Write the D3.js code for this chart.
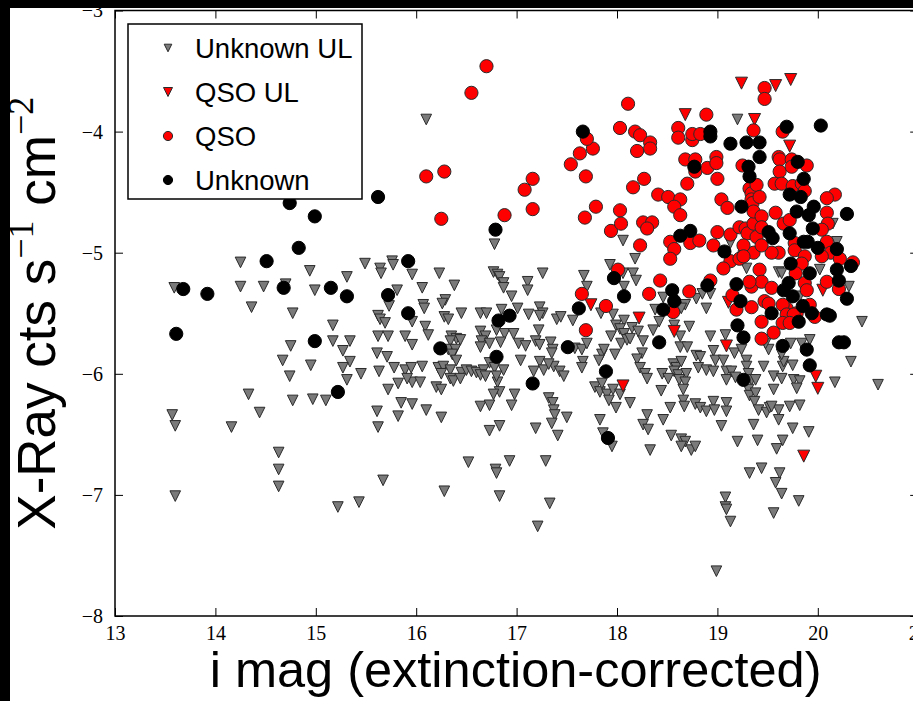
<!DOCTYPE html>
<html>
<head>
<meta charset="utf-8">
<script src="https://cdn.jsdelivr.net/npm/d3@7"></script>
<style>
  html, body { margin: 0; padding: 0; background: #000; }
  svg { display: block; }
</style>
</head>
<body>
<svg id="chart" width="913" height="701"></svg>
<script>
// X-ray count rate (log) against extinction-corrected i magnitude.
// Each entry is [i mag, log10 X-ray cts s^-1 cm^-2].

// Sources of unknown type, X-ray upper limits only
const unknownUL = [
  [14.25,-5.08],[14.94,-5.15],[15.49,-5.09],[15.64,-5.13],[15.65,-5.17],[15.76,-5.07],[15.77,-5.10],[15.96,-5.18],
  [15.31,-5.20],[13.59,-5.29],[14.25,-5.28],[14.48,-5.28],[14.70,-5.26],[14.99,-5.31],[15.81,-5.31],[14.36,-5.45],
  [14.77,-5.50],[15.73,-5.44],[15.62,-5.52],[15.64,-5.55],[15.69,-5.58],[15.96,-5.57],[15.17,-5.60],[14.75,-5.77],
  [15.17,-5.73],[15.34,-5.73],[15.27,-5.81],[15.62,-5.69],[15.72,-5.69],[15.89,-5.69],[15.96,-5.76],[15.61,-5.83],
  [15.71,-5.86],[14.67,-5.89],[14.95,-5.93],[15.34,-5.90],[15.27,-5.95],[15.45,-6.00],[15.63,-5.98],[15.78,-5.95],
  [15.89,-5.97],[15.95,-5.95],[14.74,-6.02],[15.31,-6.05],[15.96,-6.07],[15.82,-6.08],[15.72,-6.13],[14.33,-6.17],
  [14.77,-6.22],[14.97,-6.21],[15.10,-6.22],[15.85,-6.24],[15.96,-6.25],[13.57,-6.34],[13.60,-6.43],[14.44,-6.32],
  [14.16,-6.44],[15.61,-6.31],[15.62,-6.44],[15.82,-6.35],[14.63,-6.65],[14.63,-6.79],[14.63,-6.93],[13.60,-7.01],
  [15.67,-6.88],[15.22,-7.10],[15.43,-7.06],
  [16.78,-4.93],[17.93,-5.10],[16.23,-5.17],[16.77,-5.16],[16.81,-5.18],[16.83,-5.20],[17.26,-5.17],[17.67,-5.19],
  [18.06,-5.17],[16.06,-5.29],[16.38,-5.27],[16.87,-5.25],[16.87,-5.29],[17.11,-5.24],[17.11,-5.31],[16.95,-5.36],
  [17.70,-5.28],[18.07,-5.28],[16.29,-5.39],[16.26,-5.42],[16.07,-5.43],[16.08,-5.46],[16.45,-5.50],[16.28,-5.53],
  [16.32,-5.55],[16.64,-5.50],[16.70,-5.50],[16.85,-5.47],[17.01,-5.46],[17.12,-5.51],[17.23,-5.45],[17.26,-5.50],
  [17.23,-5.52],[17.40,-5.55],[17.44,-5.53],[17.56,-5.56],[17.84,-5.50],[17.96,-5.51],[18.07,-5.56],[16.09,-5.61],
  [16.12,-5.68],[16.64,-5.65],[16.69,-5.69],[16.80,-5.64],[16.88,-5.67],[16.97,-5.67],[17.22,-5.64],[16.35,-5.69],
  [16.40,-5.71],[16.44,-5.72],[16.34,-5.73],[17.99,-5.60],[18.03,-5.63],[18.07,-5.67],[17.94,-5.69],[16.32,-5.80],
  [16.39,-5.80],[16.36,-5.84],[16.65,-5.73],[16.73,-5.75],[16.64,-5.78],[16.84,-5.74],[17.02,-5.75],[17.09,-5.77],
  [17.19,-5.73],[17.23,-5.76],[17.34,-5.74],[17.36,-5.80],[17.35,-5.83],[17.58,-5.79],[17.65,-5.80],[17.70,-5.75],
  [17.85,-5.84],[17.98,-5.84],[17.87,-5.80],[18.04,-5.75],[18.10,-5.72],[16.40,-5.89],[16.73,-5.91],[17.04,-5.89],
  [17.23,-5.90],[17.66,-5.90],[17.65,-5.95],[17.82,-5.89],[16.06,-5.94],[16.22,-5.95],[16.27,-5.94],[16.34,-5.97],
  [16.25,-6.00],[16.45,-5.99],[16.50,-5.97],[16.55,-5.98],[16.60,-5.99],[16.67,-5.97],[16.78,-5.95],[16.87,-5.97],
  [17.17,-5.98],[17.27,-5.97],[17.37,-5.94],[17.32,-5.92],[17.43,-5.98],[17.47,-6.02],[15.91,-6.04],[16.04,-6.07],
  [16.20,-6.11],[16.25,-6.13],[16.34,-6.04],[16.37,-6.06],[16.44,-6.04],[16.64,-6.01],[16.69,-6.02],[16.81,-6.07],
  [16.83,-6.15],[16.80,-6.02],[17.78,-6.11],[17.83,-6.15],[17.90,-6.17],[17.96,-6.13],[18.03,-6.17],[17.85,-6.08],
  [16.10,-6.30],[16.25,-6.36],[16.64,-6.27],[16.73,-6.26],[16.77,-6.17],[16.95,-6.26],[16.98,-6.17],[17.32,-6.20],
  [17.36,-6.24],[17.37,-6.30],[17.38,-6.34],[17.35,-6.41],[17.50,-6.36],[17.83,-6.38],[17.92,-6.22],[17.99,-6.28],
  [16.73,-6.47],[16.83,-6.43],[17.19,-6.45],[17.41,-6.51],[17.86,-6.49],[17.95,-6.60],[16.52,-6.73],[16.93,-6.72],
  [17.29,-6.72],[16.79,-6.79],[16.80,-6.82],[16.28,-6.97],[16.83,-7.01],[17.33,-7.07],[17.21,-7.26],
  [19.20,-3.90],[18.06,-4.90],[18.18,-5.05],[18.16,-5.17],[18.19,-5.23],[18.46,-5.37],[18.38,-5.47],[18.68,-5.43],
  [18.64,-5.46],[18.79,-5.38],[18.89,-5.46],[18.85,-5.34],[18.93,-5.34],[19.13,-4.92],[19.29,-5.13],
  [20.15,-4.76],[20.19,-4.91],[19.61,-5.16],[19.64,-5.17],[20.02,-5.14],[20.31,-5.28],[19.82,-5.36],
  [18.15,-5.62],[18.13,-5.71],[18.21,-5.65],[18.26,-5.73],[18.36,-5.64],[18.42,-5.57],[18.57,-5.60],[18.72,-5.61],
  [18.63,-5.69],[18.93,-5.69],[18.63,-5.78],[18.70,-5.78],[18.25,-5.83],[18.20,-5.88],[18.79,-5.85],[18.96,-5.81],
  [18.98,-5.89],[19.08,-5.68],[19.17,-5.83],[19.24,-5.80],[19.29,-5.89],[19.06,-5.89],[18.56,-5.92],[18.59,-5.95],
  [18.57,-5.98],[18.64,-5.90],[18.23,-5.95],[18.28,-6.00],[18.30,-6.04],[18.45,-6.00],[18.51,-6.04],[18.61,-6.01],
  [18.69,-6.00],[18.62,-6.05],[18.68,-6.07],[18.81,-5.95],[18.89,-5.97],[18.96,-5.98],[18.83,-5.86],[19.09,-5.98],
  [19.09,-6.05],[19.14,-5.98],[19.18,-6.03],[19.29,-5.94],[19.31,-6.00],[19.34,-6.05],[19.38,-6.05],[19.46,-5.94],
  [19.56,-6.02],[19.64,-6.04],[19.65,-5.94],[19.66,-5.90],[19.64,-5.84],[19.51,-5.80],[19.75,-5.93],[19.76,-6.05],
  [19.82,-6.06],[19.79,-6.12],[19.73,-5.75],[19.84,-5.75],[19.92,-5.72],[19.48,-5.75],[19.56,-6.13],[19.31,-6.13],
  [19.32,-6.18],[19.38,-6.16],[18.66,-6.13],[18.66,-6.22],[18.67,-6.27],[18.44,-6.14],[18.13,-6.24],[18.53,-6.28],
  [18.78,-6.25],[18.83,-6.28],[18.89,-6.31],[18.96,-6.23],[18.97,-6.30],[19.09,-6.24],[19.09,-6.31],[19.37,-6.23],
  [19.41,-6.30],[19.49,-6.32],[19.52,-6.28],[19.61,-6.30],[19.61,-6.38],[19.54,-6.27],[19.72,-6.27],[19.82,-6.26],
  [18.30,-6.34],[18.26,-6.42],[18.31,-6.46],[18.46,-6.38],[19.04,-6.43],[19.36,-6.42],[19.75,-6.45],[19.91,-6.48],
  [18.54,-6.51],[18.64,-6.54],[18.68,-6.56],[18.64,-6.60],[18.74,-6.63],[18.78,-6.60],[18.33,-6.63],[19.20,-6.56],
  [19.40,-6.55],[19.59,-6.62],[19.65,-6.55],[20.44,-5.57],[20.33,-5.90],[20.17,-6.07],[20.60,-6.09],[19.32,-6.82],
  [19.44,-6.78],[19.62,-6.82],[19.58,-6.90],[19.64,-6.99],[19.81,-7.05],[19.08,-7.02],[19.08,-7.10],[19.09,-7.12],
  [19.13,-7.22],[19.56,-7.15],[18.99,-7.63],[16.10,-3.90]
];

// Spectroscopic QSOs, X-ray upper limits only
const qsoUL = [
  [19.24,-3.60],[19.58,-3.62],[19.73,-3.57],[18.68,-3.86],[19.37,-3.90],[19.72,-4.12],[19.11,-5.41],[18.22,-5.54],
  [18.57,-5.65],[19.09,-5.77],[18.06,-6.10],[19.98,-6.02],[20.00,-6.12],[19.86,-6.68],[17.74,-5.43],[20.05,-5.31]
];

// Spectroscopic QSOs, X-ray detections
const qso = [
  [16.70,-3.46],[16.55,-3.68],[16.10,-4.37],[16.28,-4.33],[17.16,-4.39],[17.08,-4.48],[17.54,-4.27],[17.63,-4.18],
  [17.76,-4.14],[17.70,-4.06],[17.69,-4.37],[18.03,-3.97],[16.25,-4.72],[16.88,-4.69],[17.16,-4.64],[17.68,-4.71],
  [17.79,-4.62],[18.03,-4.65],[17.94,-4.82],[18.04,-4.76],[18.01,-5.14],[17.65,-5.34],[17.89,-5.44],[17.69,-5.64],
  [18.11,-3.77],[18.18,-4.00],[18.23,-4.03],[18.33,-4.09],[18.33,-4.14],[18.20,-4.16],[18.61,-3.97],[18.61,-4.05],
  [18.75,-4.07],[18.75,-4.02],[18.83,-4.02],[18.89,-3.86],[18.68,-4.23],[18.78,-4.23],[18.78,-4.33],[18.90,-4.30],
  [18.99,-4.21],[18.99,-4.26],[19.00,-4.39],[18.70,-4.43],[18.16,-4.46],[18.27,-4.39],[18.41,-4.52],[18.51,-4.54],
  [18.63,-4.56],[18.57,-4.62],[18.63,-4.69],[18.26,-4.75],[18.35,-4.75],[18.30,-4.80],[18.23,-4.94],[18.53,-4.91],
  [18.57,-4.97],[18.53,-5.05],[18.73,-4.92],[18.82,-4.90],[18.96,-4.94],[19.04,-4.56],[19.10,-4.63],[19.25,-4.28],
  [19.32,-4.47],[19.34,-4.51],[19.34,-4.56],[19.35,-4.59],[19.00,-4.83],[19.13,-4.85],[19.22,-4.79],[19.28,-4.80],
  [19.30,-4.84],[19.36,-4.76],[19.39,-4.87],[19.27,-5.00],[19.13,-5.07],[19.22,-5.05],[19.06,-5.13],[19.34,-5.28],
  [18.43,-5.23],[18.32,-5.34],[18.72,-5.32],[18.93,-5.23],[19.15,-5.35],[19.19,-5.47],[19.34,-5.45],[19.36,-5.00],
  [19.36,-4.66],[19.36,-3.99],[19.47,-3.64],[19.47,-3.73],[19.65,-4.00],[19.61,-4.21],[19.62,-4.23],[19.74,-4.23],
  [19.89,-4.28],[19.62,-4.33],[19.39,-4.44],[20.17,-4.52],[20.09,-4.55],[19.74,-4.29],[19.57,-4.43],[19.64,-4.43],
  [19.75,-4.45],[19.84,-4.43],[19.87,-4.49],[19.42,-4.54],[20.09,-4.67],[20.10,-4.76],[19.58,-4.67],[19.44,-4.70],
  [19.44,-4.79],[19.66,-4.76],[19.72,-4.73],[20.04,-4.81],[19.77,-4.92],[19.77,-4.98],[19.61,-5.00],[19.54,-5.00],
  [19.44,-4.94],[20.09,-4.91],[20.13,-5.00],[20.22,-5.05],[20.35,-5.08],[19.87,-5.03],[19.84,-5.09],[20.04,-5.03],
  [19.42,-5.14],[19.44,-5.24],[19.54,-5.29],[19.78,-5.17],[19.87,-5.25],[19.89,-5.31],[20.09,-5.24],[20.21,-5.30],
  [19.32,-5.24],[19.47,-5.40],[19.51,-5.42],[19.69,-5.46],[19.79,-5.50],[19.26,-4.94],[19.26,-5.03],[18.56,-5.49],
  [19.44,-5.57],[19.44,-5.71],[19.56,-5.66],[19.65,-5.43],[19.69,-5.51],[19.76,-5.51],[19.65,-5.58],[19.72,-5.58],
  [19.97,-5.53],[19.92,-5.43]
];

// Sources of unknown type, X-ray detections
const unknown = [
  [13.61,-5.67],[13.68,-5.30],[13.92,-5.34],[14.51,-5.07],[14.68,-5.29],[14.74,-4.59],[14.99,-4.70],[14.83,-4.96],
  [15.15,-5.29],[15.31,-5.36],[15.72,-5.35],[15.92,-5.07],[15.92,-5.50],[15.62,-4.54],[14.99,-5.73],[15.22,-6.15],
  [16.79,-4.81],[16.82,-5.56],[16.93,-5.52],[16.24,-5.79],[16.80,-5.86],[17.16,-6.08],[17.51,-5.78],[17.62,-5.46],
  [17.97,-5.21],[18.07,-5.36],[17.89,-5.98],[17.91,-6.53],[17.66,-4.00],[18.93,-4.00],[18.93,-4.04],[19.13,-4.10],
  [19.29,-4.09],[19.42,-4.09],[19.42,-4.21],[18.77,-4.29],[19.31,-4.29],[19.32,-4.37],[19.24,-4.62],[18.63,-4.86],
  [18.73,-4.82],[19.07,-4.99],[18.55,-5.31],[18.57,-5.40],[18.46,-5.47],[18.90,-5.27],[19.19,-5.26],[19.23,-5.40],
  [19.69,-3.96],[20.03,-3.95],[19.80,-4.25],[19.86,-4.39],[19.72,-4.52],[19.83,-4.54],[19.96,-4.62],[19.79,-4.66],
  [19.91,-4.69],[20.29,-4.68],[19.51,-4.83],[19.55,-4.88],[19.72,-4.84],[19.95,-4.80],[19.86,-4.91],[20.00,-4.96],
  [19.90,-4.91],[20.19,-4.97],[20.33,-5.11],[20.19,-5.14],[20.21,-5.23],[19.73,-5.09],[19.92,-5.17],[19.71,-5.25],
  [19.66,-5.31],[19.75,-5.36],[19.85,-5.44],[20.29,-5.38],[20.09,-5.51],[19.54,-5.50],[19.94,-5.50],[19.20,-5.60],
  [19.26,-5.70],[19.65,-5.77],[19.81,-5.57],[19.89,-5.80],[19.92,-5.93],[20.12,-5.52],[20.21,-5.74],[20.26,-5.74],
  [18.42,-5.74],[19.26,-6.05]
];

const xTicks = [13, 14, 15, 16, 17, 18, 19, 20, 21];
const yTicks = [-8, -7, -6, -5, -4, -3];
const seriesNames = ["Unknown UL", "QSO UL", "QSO", "Unknown"];

const W = 913, H = 701;
const svg = d3.select("#chart");

// dark page, white figure canvas
svg.append("rect").attr("width", W).attr("height", H).attr("fill", "#000");
svg.append("rect").attr("x", 10).attr("y", 8).attr("width", W - 10).attr("height", H - 8).attr("fill", "#fff");

const x = d3.scaleLinear().domain([13, 21]).range([115, 918.2]);
const y = d3.scaleLinear().domain([-8, -3]).range([616, 10.5]);

const fmt = d => (d < 0 ? "\u2212" + Math.abs(d) : String(d));
const tickFont = "'Liberation Serif', 'DejaVu Serif', serif";

// axes with inward ticks on all four sides
const gx = svg.append("g").attr("transform", `translate(0,${y(-8)})`)
  .call(d3.axisBottom(x).tickValues(xTicks).tickSize(-8).tickPadding(10).tickFormat(fmt));
const gxTop = svg.append("g").attr("transform", `translate(0,${y(-3)})`)
  .call(d3.axisTop(x).tickValues(xTicks).tickSize(-8).tickFormat(""));
const gy = svg.append("g").attr("transform", `translate(${x(13)},0)`)
  .call(d3.axisLeft(y).tickValues(yTicks).tickSize(-8).tickPadding(12).tickFormat(fmt));
const gyRight = svg.append("g").attr("transform", `translate(${x(21)},0)`)
  .call(d3.axisRight(y).tickValues(yTicks).tickSize(-8).tickFormat(""));

[gx, gxTop, gy, gyRight].forEach(g => {
  g.select(".domain").remove();
  g.selectAll(".tick line").attr("stroke", "#000").attr("stroke-width", 1);
  g.selectAll(".tick text").attr("fill", "#000").style("font-family", tickFont).style("font-size", "20px");
});

// marker shapes
const triDown = s => `M${-s},${-s}L${s},${-s}L0,${s}Z`;
const plot = svg.append("g");

plot.append("g").selectAll("path").data(unknownUL).join("path")
  .attr("d", triDown(5.3))
  .attr("transform", d => `translate(${x(d[0])},${y(d[1])})`)
  .attr("fill", "#7a7a7a").attr("stroke", "#2a2a2a").attr("stroke-width", 1);

plot.append("g").selectAll("path").data(qsoUL).join("path")
  .attr("d", triDown(6))
  .attr("transform", d => `translate(${x(d[0])},${y(d[1])})`)
  .attr("fill", "#ff0000").attr("stroke", "#2a2a2a").attr("stroke-width", 1);

plot.append("g").selectAll("circle").data(qso).join("circle")
  .attr("cx", d => x(d[0])).attr("cy", d => y(d[1])).attr("r", 6.6)
  .attr("fill", "#ff0000").attr("stroke", "#2a2a2a").attr("stroke-width", 1);

plot.append("g").selectAll("circle").data(unknown).join("circle")
  .attr("cx", d => x(d[0])).attr("cy", d => y(d[1])).attr("r", 6.6)
  .attr("fill", "#000").attr("stroke", "#000").attr("stroke-width", 1);

// frame
svg.append("rect")
  .attr("x", x(13)).attr("y", y(-3))
  .attr("width", x(21) - x(13)).attr("height", y(-8) - y(-3))
  .attr("fill", "none").attr("stroke", "#000").attr("stroke-width", 1.5);

// axis titles
const sans = "'Liberation Sans', Arial, Helvetica, sans-serif";
svg.append("text")
  .attr("x", (x(13) + x(21)) / 2 - 1).attr("y", 687)
  .attr("text-anchor", "middle")
  .style("font-family", sans).style("font-size", "50.5px").attr("fill", "#000")
  .text("i mag (extinction-corrected)");

const yl = svg.append("text")
  .attr("transform", `translate(55,${(y(-3) + y(-8)) / 2}) rotate(-90)`)
  .attr("text-anchor", "middle")
  .style("font-family", sans).style("font-size", "53px").attr("fill", "#000");
yl.append("tspan").text("X-Ray cts s");
yl.append("tspan").attr("dy", -22).style("font-size", "36px").style("font-family", tickFont).text("\u22121");
yl.append("tspan").attr("dy", 22).text(" cm");
yl.append("tspan").attr("dy", -22).style("font-size", "36px").style("font-family", tickFont).text("\u22122");

// legend
const legend = svg.append("g");
legend.append("rect")
  .attr("x", 128).attr("y", 24).attr("width", 234).attr("height", 175)
  .attr("fill", "#fff").attr("stroke", "#000").attr("stroke-width", 1.5);
const rowY = [48, 92, 136, 180];
const legendMarkers = [
  { shape: "tri", size: 3.8, fill: "#7a7a7a", stroke: "#2a2a2a" },
  { shape: "tri", size: 4.5, fill: "#ff0000", stroke: "#2a2a2a" },
  { shape: "circ", size: 4.6, fill: "#ff0000", stroke: "#2a2a2a" },
  { shape: "circ", size: 4.6, fill: "#000", stroke: "#000" }
];
seriesNames.forEach((name, i) => {
  const m = legendMarkers[i];
  if (m.shape === "tri") {
    legend.append("path").attr("d", triDown(m.size))
      .attr("transform", `translate(168,${rowY[i]})`)
      .attr("fill", m.fill).attr("stroke", m.stroke).attr("stroke-width", 1);
  } else {
    legend.append("circle").attr("cx", 168).attr("cy", rowY[i]).attr("r", m.size)
      .attr("fill", m.fill).attr("stroke", m.stroke).attr("stroke-width", 1);
  }
  legend.append("text").attr("x", 195).attr("y", rowY[i] + 9.5)
    .style("font-family", sans).style("font-size", "27.5px").attr("fill", "#000")
    .text(name);
});

// dark band along the top edge of the page
svg.append("rect").attr("x", 0).attr("y", 0).attr("width", W).attr("height", 8).attr("fill", "#000");
</script>
</body>
</html>
